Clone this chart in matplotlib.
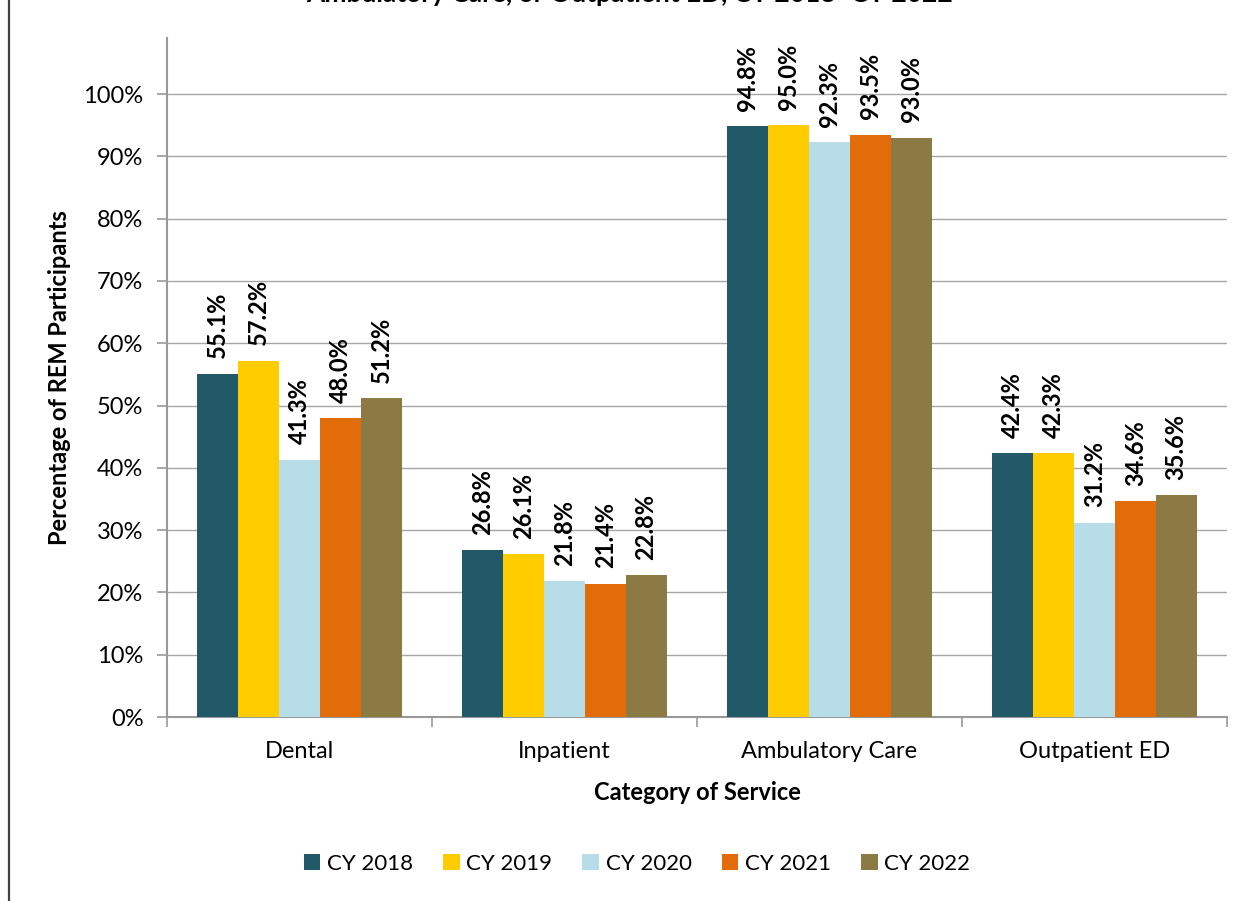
import numpy as np
import matplotlib
matplotlib.use("Agg")
import matplotlib.pyplot as plt
from matplotlib.patches import Rectangle
from matplotlib.ticker import FuncFormatter, FixedLocator

plt.rcParams['font.family'] = ['Lato', 'DejaVu Sans']

categories = ['Dental', 'Inpatient', 'Ambulatory Care', 'Outpatient ED']
years = ['CY 2018', 'CY 2019', 'CY 2020', 'CY 2021', 'CY 2022']
values = {
    'CY 2018': [55.1, 26.8, 94.8, 42.4],
    'CY 2019': [57.2, 26.1, 95.0, 42.3],
    'CY 2020': [41.3, 21.8, 92.3, 31.2],
    'CY 2021': [48.0, 21.4, 93.5, 34.6],
    'CY 2022': [51.2, 22.8, 93.0, 35.6],
}
colors = ['#215968', '#FFCC00', '#B7DDE8', '#E36C0A', '#8C7A45']

fig = plt.figure(figsize=(12.55, 9.01), dpi=100)
ax = fig.add_axes([167/1255, 1-717/901, (1227-167)/1255, (717-38)/901])

# outer chart frame (runs off the right/bottom edge)
fig.patches.append(Rectangle((9/1255, -0.2), 1.5, 1.2 + (1-8/901), transform=fig.transFigure,
                             fill=False, edgecolor='#404040', linewidth=1.6))

# title, only its lower edge shows at the top of the picture
fig.text(630/1255, 1-1.5/901, 'Ambulatory Care, or Outpatient ED, CY 2018\u2013CY 2022',
         ha='center', va='baseline', fontsize=19, fontweight='bold')

x = np.arange(len(categories))
w = 0.154
for i, yr in enumerate(years):
    pos = x + (i - 2) * w
    vals = np.array(values[yr]) / 100
    ax.bar(pos, vals, width=w, color=colors[i], label=yr, zorder=3)
    for p, v in zip(pos, vals):
        ax.annotate('%.1f%%' % (v*100), (p, v), xytext=(0, 11), textcoords='offset points',
                    rotation=90, ha='center', va='bottom', fontsize=17, fontweight='bold')

ax.set_xlim(-0.5, 3.5)
ax.set_ylim(0, 1.09)
ax.set_yticks(np.arange(0, 1.01, 0.1))
ax.yaxis.set_major_formatter(FuncFormatter(lambda v, p: '%d%%' % round(v*100)))
ax.grid(axis='y', color='#A6A6A6', linewidth=1, zorder=0)

ax.set_xticks(x)
ax.set_xticklabels(categories)
ax.xaxis.set_minor_locator(FixedLocator([-0.5, 0.5, 1.5, 2.5, 3.5]))
ax.tick_params(axis='x', which='major', length=0, pad=17, labelsize=17)
ax.tick_params(axis='x', which='minor', length=7, width=1.2, color='#999999')
ax.tick_params(axis='y', length=7, width=1.2, color='#999999', labelsize=17, pad=10)

for s in ['top', 'right']:
    ax.spines[s].set_visible(False)
for s in ['left', 'bottom']:
    ax.spines[s].set_color('#999999')
    ax.spines[s].set_linewidth(1.5)

ax.set_xlabel('Category of Service', fontsize=17, fontweight='bold', labelpad=14)
ax.set_ylabel('Percentage of REM Participants', fontsize=17, fontweight='bold', labelpad=9)

fig.legend(loc='center', bbox_to_anchor=(637/1255, 1-864/901), ncol=5, frameon=False,
           fontsize=16, handlelength=0.75, handleheight=0.75, handletextpad=0.3, columnspacing=1.35)

fig.savefig('out.png', dpi=100)
